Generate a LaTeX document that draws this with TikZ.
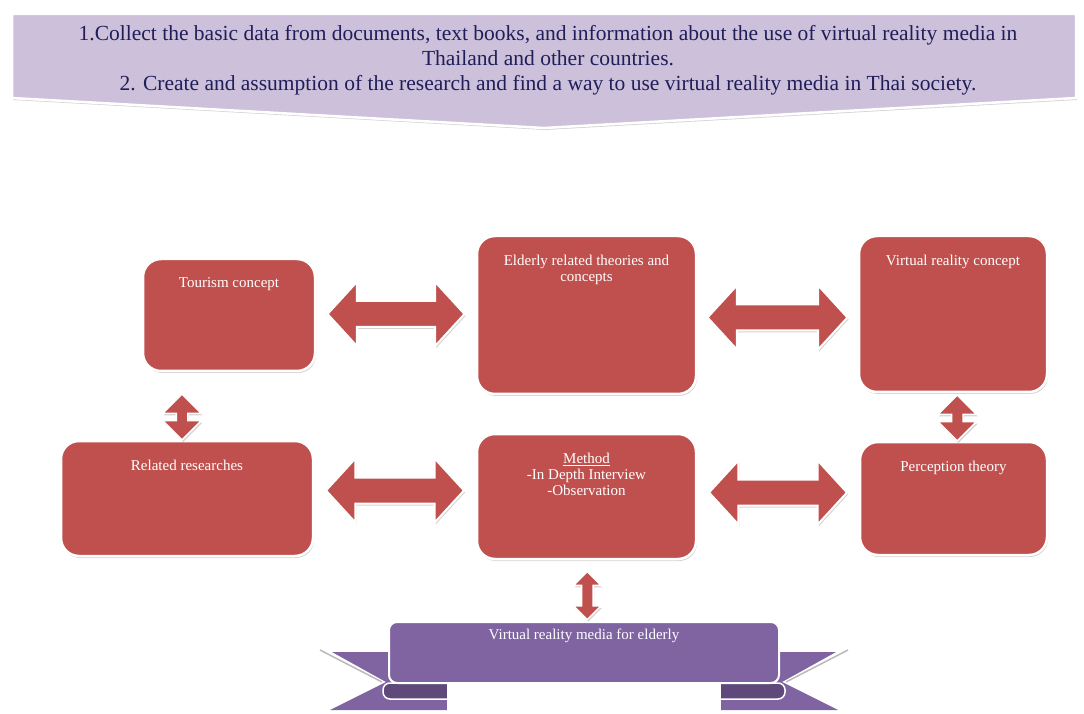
\documentclass[tikz,border=0pt]{standalone}
\usepackage{fontspec}
\setmainfont{Liberation Serif}
\usetikzlibrary{shadows, shapes.arrows, positioning, calc}
\definecolor{boxred}{RGB}{192,80,77}
\definecolor{ribbon}{RGB}{128,100,162}
\definecolor{ribbondark}{RGB}{95,73,122}
\definecolor{lilac}{RGB}{204,192,218}
\definecolor{navy}{RGB}{32,30,90}

\begin{document}
\begin{tikzpicture}[x=1pt,y=1pt,
  softshadow/.style={drop shadow={shadow xshift=1pt, shadow yshift=-2pt, opacity=.35}},
  box/.style={draw=white, line width=2.5pt, fill=boxred, rounded corners=18pt, softshadow},
  boxtext/.style={text=white, font=\fontsize{15}{16}\selectfont, align=center, inner sep=0pt},
  hbar/.style={double arrow, draw=white, line width=2pt, fill=boxred, inner xsep=0pt, inner ysep=12pt,
    double arrow head extend=19pt, double arrow tip angle=95, softshadow},
  vbar/.style={double arrow, shape border rotate=90, draw=white, line width=1.5pt, fill=boxred,
    inner sep=5pt, double arrow head extend=#1/2-5pt, double arrow tip angle=90, softshadow}]
\useasboundingbox (0,0) rectangle (1084,713);

% steps banner
\draw[fill=lilac, draw=white, line width=2.5pt, softshadow]
  (12,699) -- (1076,699) -- (1076,615) -- (544,585) -- (12,615) -- cycle;
\node[text=navy, align=center, font=\fontsize{21.5}{25}\selectfont] (steps) at (548,653)
  {1.Collect the basic data from documents, text books, and information about the use of virtual reality media in\\
   Thailand and other countries.\\
   2. Create and assumption of the research and find a way to use virtual reality media in Thai society.};

% concept boxes
\foreach \n/\pos/\w/\h/\txt in {
  tour/{229,398}/172/112/{Tourism concept},
  eld/{586.5,398}/219/158/{Elderly related theories and\\concepts},
  vrc/{953,399}/188/156/{Virtual reality concept},
  rel/{187,214.5}/252/115/{Related researches},
  meth/{586.5,216.5}/219/125/{\underline{Method}\\-In Depth Interview\\-Observation},
  perc/{953.5,214.5}/187/113/{Perception theory}} {
  \node[box, minimum width=\w pt, minimum height=\h pt] (\n) at (\pos) {};
  \node[boxtext, below=20pt of \n.north] (\n-t) {\txt};
}

% outcome ribbon
\foreach \s in {1,-1} {
  \begin{scope}[xshift=584pt, xscale=\s]
    \fill[ribbon] (-252,61) -- (-192,61) -- (-192,30) -- (-136,30) -- (-136,3) -- (-254,3) -- (-198,31) -- cycle;
    \draw[gray!55, line width=1.5pt] (-264,63) -- (-202,31);
    \draw[fill=ribbondark, draw=white, line width=1.5pt, rounded corners=7pt]
      (-136,30) -- (-201,30) -- (-201,14) -- (-136,14);
    \draw[white, line width=1.5pt] (-136,30) -- (-136,3);
  \end{scope}
}
\node[fill=ribbon, draw=white, line width=2pt, rounded corners=8pt,
  minimum width=390pt, minimum height=61pt] (media) at (584,60.5) {};
\node[boxtext, below=8pt of media.north] (media-t) {Virtual reality media for elderly};

% links
\foreach \a/\b/\dy/\len in {tour/eld/1/137pt, eld/vrc/-3/140pt, rel/meth/7/138pt, meth/perc/5/138pt}
  \node[hbar, minimum height=\len] (\a-\b) at ($(\a.east)!.5!(\b.west)+(0,\dy)$) {};
\node[vbar=37pt, minimum height=46pt] (tour-rel) at ($(tour.south)!.5!(rel.north)+(-26,-11)$) {};
\node[vbar=37pt, minimum height=46pt] (vrc-perc) at ($(vrc.south)!.5!(perc.north)+(4,-1)$) {};
\node[vbar=26pt, minimum height=48pt] (meth-media) at ($(meth.south)!.5!(media.north)+(2,-5)$) {};
\end{tikzpicture}
\end{document}
